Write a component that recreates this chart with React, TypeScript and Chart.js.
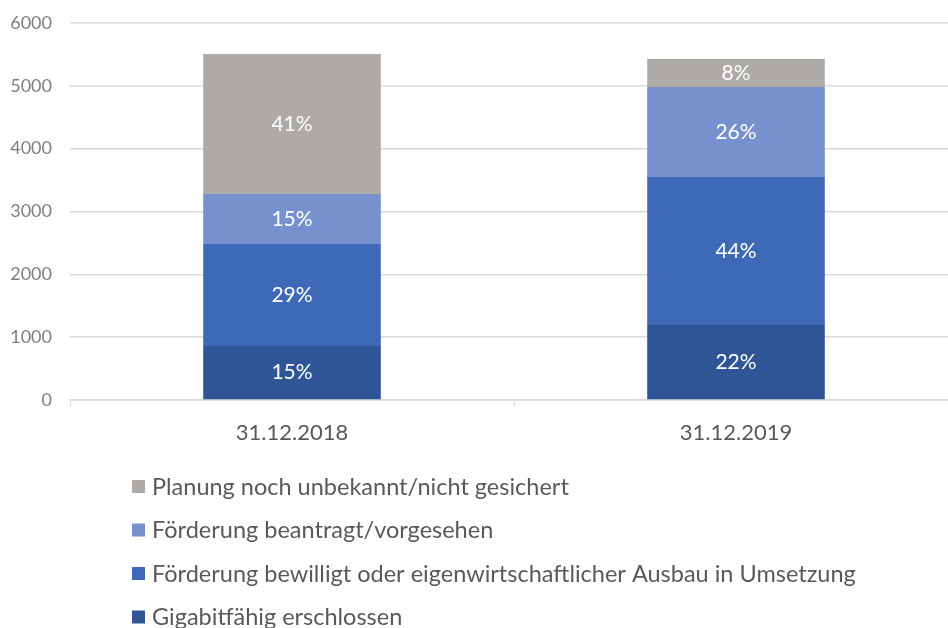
import React, { useEffect, useRef } from "react";
import { Chart, registerables } from "chart.js";

Chart.register(...registerables);

const categories = ["31.12.2018", "31.12.2019"];
const gigabit = [860, 1194];
const bewilligt = [1623, 2355];
const beantragt = [796, 1433];
const planung = [2228, 445];
const gigabitPct = ["15%", "22%"];
const bewilligtPct = ["29%", "44%"];
const beantragtPct = ["15%", "26%"];
const planungPct = ["41%", "8%"];
const yTicks = [0, 1000, 2000, 3000, 4000, 5000, 6000];

const seriesNames = [
  "Gigabitfähig erschlossen",
  "Förderung bewilligt oder eigenwirtschaftlicher Ausbau in Umsetzung",
  "Förderung beantragt/vorgesehen",
  "Planung noch unbekannt/nicht gesichert",
];
const colors = ["#2F5597", "#3E69B8", "#7790CE", "#ADAAA8"];
const FONT = "Lato, 'Open Sans', sans-serif";

export default function App() {
  const ref = useRef<HTMLCanvasElement | null>(null);
  useEffect(() => {
    document.body.style.margin = "0";
    const pctLabels = [gigabitPct, bewilligtPct, beantragtPct, planungPct];
    const dataLabelPlugin = {
      id: "dataLabels",
      afterDatasetsDraw(chart: any) {
        const ctx = chart.ctx;
        ctx.save();
        ctx.fillStyle = "#FFFFFF";
        ctx.font = `21px ${FONT}`;
        ctx.textAlign = "center";
        ctx.textBaseline = "middle";
        chart.data.datasets.forEach((ds: any, i: number) => {
          const meta = chart.getDatasetMeta(i);
          meta.data.forEach((bar: any, j: number) => {
            const y = (bar.y + bar.base) / 2;
            ctx.fillText(pctLabels[i][j], bar.x, y);
          });
        });
        ctx.restore();
      },
    };
    const legendPlugin = {
      id: "customLegend",
      afterDraw(chart: any) {
        const ctx = chart.ctx;
        ctx.save();
        ctx.font = `23.5px ${FONT}`;
        ctx.textBaseline = "middle";
        ctx.textAlign = "left";
        const startY = chart.chartArea.bottom + 86;
        const step = 43.5;
        const order = [3, 2, 1, 0];
        order.forEach((di, k) => {
          const y = startY + k * step;
          ctx.fillStyle = colors[di];
          ctx.fillRect(132, y - 6, 13, 13);
          ctx.fillStyle = "#595959";
          ctx.fillText(chart.data.datasets[di].label, 152, y + 1);
        });
        ctx.restore();
      },
    };
    const series = [gigabit, bewilligt, beantragt, planung];
    const chart = new Chart(ref.current!, {
      type: "bar",
      data: {
        labels: categories,
        datasets: series.map((d, i) => ({
          label: seriesNames[i],
          data: d,
          backgroundColor: colors[i],
          borderWidth: 0,
          categoryPercentage: 1,
          barPercentage: 0.4,
        })),
      },
      options: {
        responsive: false,
        animation: false,
        layout: { padding: { top: 23, right: 4, left: 0, bottom: 0 } },
        plugins: {
          legend: { display: false },
          tooltip: { enabled: false },
        },
        scales: {
          x: {
            stacked: true,
            afterFit(scale: any) {
              scale.height = 228;
            },
            grid: {
              display: true,
              drawOnChartArea: false,
              drawTicks: true,
              tickLength: 6,
              color: "#D9D9D9",
              offset: true,
            },
            border: { display: true, color: "#D9D9D9", width: 1.5 },
            ticks: {
              color: "#595959",
              font: { family: FONT, size: 22 },
              padding: 14,
            },
          },
          y: {
            stacked: true,
            min: 0,
            max: 6000,
            afterFit(scale: any) {
              scale.width = 70;
              scale.paddingTop = 10;
              scale.paddingBottom = 10;
            },
            afterBuildTicks(scale: any) {
              scale.ticks = yTicks.map((v) => ({ value: v }));
            },
            grid: { color: "#D9D9D9", lineWidth: 1.5, drawTicks: false },
            border: { display: false },
            ticks: {
              color: "#7F7F7F",
              font: { family: FONT, size: 18 },
              padding: 18,
              callback: (v: any) => String(v),
            },
          },
        },
      },
      plugins: [dataLabelPlugin, legendPlugin],
    });
    return () => chart.destroy();
  }, []);
  return (
    <div style={{ width: 948, height: 628, overflow: "hidden", position: "relative" }}>
      <canvas ref={ref} width={962} height={628} style={{ display: "block" }} />
    </div>
  );
}
